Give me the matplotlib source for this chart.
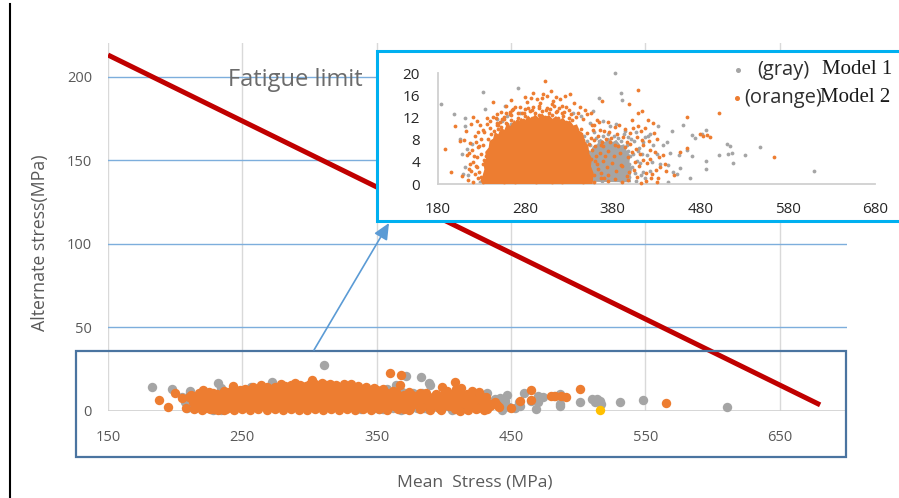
import numpy as np
import matplotlib
matplotlib.use("Agg")
import matplotlib.pyplot as plt
from matplotlib.patches import Rectangle, FancyArrowPatch
from matplotlib.lines import Line2D

plt.rcParams['font.family'] = ['Open Sans', 'DejaVu Sans']

# ---------------- data ----------------
x_ticks_main = [150, 250, 350, 450, 550, 650]
y_ticks_main = [0, 50, 100, 150, 200]
x_ticks_inset = [180, 280, 380, 480, 580, 680]
y_ticks_inset = [0, 4, 8, 12, 16, 20]

limit_x = [150, 680]
limit_y = [213, 3.5]

model1_points = [
    (183, 14.4), (198, 12.7), (205, 8.2), (207, 5.5), (209, 1.9), (211, 12.0), (211, 10.5), (211, 3.1),
    (213, 6.4), (214.7, 1.6), (218.5, 7.2), (228, 0.4), (232, 16.6), (233.8, 0.7), (234, 13.5), (239.5, 3.4),
    (247, 11.7), (253, 11.4), (256.6, 14.1), (258.6, 12.3), (264, 10.8), (272, 17.3), (274, 12.9), (311, 27.4),
    (335, 12.9), (344, 12.3), (354, 11.1), (357.7, 13.2), (364, 15.5), (369, 11.4), (372, 21.0), (377, 10.5),
    (383, 20.0), (384, 10.8), (389, 16.4), (390, 15.2), (394, 9.6), (397.8, 8.5),
    (333, 8.2), (336, 3.8), (338, 0.9), (342, 6.0), (345, 2.5), (347, 8.6), (349, 4.4), (352, 1.0),
    (354, 7.0), (356, 3.2), (358, 9.4), (360, 5.4), (362, 1.8), (364, 7.8), (366, 4.0), (368, 0.6),
    (370, 6.4), (372, 2.6), (374, 9.0), (376, 4.8), (378, 7.2), (380, 1.4), (382, 5.8), (384, 3.2),
    (386, 8.4), (388, 0.8), (390, 6.2), (392, 2.0), (394, 4.6), (396, 7.0), (398, 1.2), (400, 5.0),
    (402, 3.0), (404, 7.8), (406, 0.5), (408, 4.2), (410, 6.6), (412, 1.6),
    (341, 3.2), (343, 7.4), (346, 5.2), (348, 1.8), (350, 7.8), (351, 3.8), (353, 5.8), (355, 0.8),
    (357, 6.4), (359, 2.6), (361, 8.4), (363, 4.4), (365, 6.6), (367, 2.4), (369, 8.6), (371, 4.4),
    (373, 7.0), (375, 1.0), (377, 5.6), (379, 3.4), (381, 8.6), (383, 6.8), (385, 1.8), (387, 4.6),
    (389, 7.8), (391, 5.0), (393, 9.0), (395, 2.6), (397, 6.0), (399, 3.6), (401, 8.2), (403, 5.4),
    (405, 2.0), (407, 9.4), (409, 6.0), (411, 3.8), (413, 5.4), (415, 7.6), (417, 1.0), (419, 5.2),
    (414.9, 2.2), (416.8, 8.5), (420.6, 8.6), (422.5, 9.0), (422.5, 2.3), (424.4, 4.0), (426.3, 7.0),
    (430.2, 5.5), (432.1, 10.5), (434.0, 3.7), (437.8, 7.0), (441.6, 7.6), (443.5, 3.4), (443.5, 0.3),
    (445.4, 5.6), (447.3, 9.6), (448.5, 2.2), (453.0, 1.9), (456.0, 5.2), (456.9, 2.9), (459.9, 10.7),
    (464.5, 6.1), (468.3, 1.1), (470.2, 5.1), (470.2, 8.8), (474.0, 8.3), (481.6, 9.0), (486.6, 9.8),
    (486.6, 4.1), (486.6, 2.8), (501.5, 5.3), (510.2, 7.3), (512.2, 5.5), (514.0, 6.8), (516.0, 5.7),
    (517.1, 3.8), (531.2, 5.2), (548.4, 6.7), (610.5, 2.4),
]

model2_points = [
    (188, 6.3), (195, 2.1), (199.5, 10.5), (205, 7.8), (208, 1.4), (212, 9.6), (215, 2.8), (216.6, 7.4),
    (218, 10.8), (220.4, 12.1), (220.4, 4.0), (222.3, 8.6), (224.2, 4.9), (225, 11.4), (226.1, 6.7),
    (229, 1.2), (231, 9.8), (233, 4.4), (236, 12.0), (240, 3.2), (243.3, 14.8), (246, 12.0), (249, 10.6),
    (252, 13.0), (255, 11.8), (258, 14.2), (262, 12.6), (266, 13.6), (270, 11.4), (274, 14.0), (278, 12.8),
    (281.4, 14.9), (288, 13.4), (292.9, 15.4), (296, 13.8), (299.4, 15.6), (302, 18.6), (304.3, 15.9),
    (308, 13.6), (312, 15.1), (316, 13.2), (319.6, 15.3), (322, 14.2), (325.3, 15.9), (330, 13.4),
    (336, 14.6), (340, 12.8), (346, 11.8), (350, 12.6), (356, 10.6), (359.6, 22.8), (362, 11.6),
    (367.3, 15.1), (367.8, 21.4), (370, 9.6), (374, 11.2), (378, 8.4), (382, 10.4), (386, 6.8), (389, 3.4),
    (392, 8.5), (393.9, 6.7), (395.8, 7.6), (397.7, 0.7), (398.9, 14.4), (398.9, 2.2), (399.6, 9.3),
    (401.5, 5.8), (403.5, 10.2), (405.4, 4.0), (407.3, 8.5), (408.5, 17.1), (409.2, 12.9), (409.2, 10.5),
    (411.1, 5.5), (411.8, 9.6), (412.2, 0.1), (413, 13.3), (415, 7.0), (419, 3.8), (420.6, 11.5),
    (423, 6.2), (427, 9.2), (429, 2.6), (433, 4.8), (437.8, 5.3), (439.7, 3.6), (440.8, 2.3), (450, 1.7),
    (457, 5.8), (464.5, 6.5), (465, 12.2), (479.7, 9.0), (482.8, 8.6), (487.4, 8.9), (491.2, 8.5),
    (501, 12.8), (565, 4.9),
    (350, 6.0), (355, 8.4), (360, 4.2), (365, 9.8), (369, 6.8), (373, 3.0), (377, 7.6), (381, 5.0), (385, 9.0),
    (214, 0.8), (220, 0.4), (226, 1.0), (232, 0.3), (238, 0.9), (244, 0.5), (250, 1.1), (256, 0.4),
    (262, 0.8), (268, 0.3), (274, 1.0), (280, 0.5), (286, 0.9), (292, 0.3), (298, 0.7), (304, 1.2),
    (310, 0.4), (316, 0.8), (322, 0.3), (328, 1.0), (334, 0.5), (340, 0.9), (346, 0.3), (352, 0.8),
    (358, 0.4), (366, 1.1), (374, 0.5), (382, 0.9), (390, 0.4), (418, 0.6), (424, 1.0), (430, 0.4),
    (244, 9.6), (249, 9.9), (255, 9.5), (262, 9.8), (268, 9.6), (275, 10.1), (283, 9.7), (291, 10.0),
    (298, 9.6), (306, 10.2), (313, 9.8), (321, 10.0), (328, 9.5), (335, 9.7), (341, 9.2),
    (247, 10.6), (252, 10.3), (259, 10.8), (265, 10.4), (271, 10.9), (278, 10.5), (286, 10.7), (294, 10.3),
    (301, 10.8), (309, 10.5), (317, 10.9), (324, 10.4), (331, 10.6), (338, 10.2),
    (251, 11.3), (258, 11.0), (264, 11.6), (270, 11.2), (277, 11.5), (284, 11.1), (290, 11.7), (297, 11.2),
    (304, 11.6), (311, 11.0), (318, 11.4), (326, 11.2), (333, 11.5),
    (256, 12.1), (263, 12.4), (272, 11.9), (280, 12.3), (287, 12.0), (295, 12.5), (302, 12.1), (310, 12.4),
    (317, 12.0), (323, 12.3), (330, 12.0),
    (262, 13.1), (276, 12.9), (285, 13.2), (291, 12.8), (299, 13.3), (307, 12.9), (315, 13.1), (322, 12.8),
    (268, 13.9), (283, 13.7), (295, 14.2), (305, 13.8), (313, 14.1), (327, 13.9),
    (258, 12.8), (265, 13.4), (272, 12.9), (279, 13.6), (289, 13.9), (297, 14.6), (303, 13.4), (310, 14.4),
    (318, 13.7), (324, 13.0), (332, 12.6), (338, 12.2), (253, 11.8), (247, 11.0),
    (286, 15.6), (289, 16.4), (300, 16.2), (309, 16.8), (315, 15.8), (331, 16.2), (279, 15.8), (264, 15.2),
    (342, 14.0), (348, 13.4), (355, 12.8),
    (227, 2.2), (229, 5.4), (231, 3.6), (232, 7.0), (234, 1.8), (235, 5.0), (237, 8.2), (238, 3.0),
    (240, 6.4), (241, 9.0), (243, 4.4), (244, 7.6), (230, 0.8), (236, 0.5), (242, 1.5), (239, 10.2),
    (222, 1.8), (224, 3.2), (218, 2.4), (216, 5.6), (219, 6.2),
    (225, 3.0), (227, 6.8), (229, 8.2), (226, 9.4), (221, 5.0), (223, 7.6), (217, 3.6), (213, 5.2),
    (210, 8.0), (228, 10.6), (233, 9.4), (236, 10.8), (240, 11.4), (243, 12.2), (248, 12.6),
    (344, 10.0), (346, 8.0), (348, 5.6), (350, 9.2), (351, 2.8), (353, 7.2), (355, 4.6), (357, 9.8),
    (358, 1.6), (360, 6.8), (362, 3.6), (363, 8.6), (365, 5.6), (367, 2.0), (368, 7.6),
    (356, 6.2), (359, 8.0), (361, 5.0), (358, 10.6), (363, 2.8), (364, 11.2), (366, 7.0), (369, 4.2),
    (370, 1.0), (372, 8.2), (374, 6.0),
    (371, 5.0), (375, 1.6), (376, 9.4), (379, 3.8), (383, 7.0), (384, 2.4), (387, 10.6), (388, 5.6),
    (391, 3.2), (394, 10.0), (396, 1.4), (397, 4.8), (400, 7.2), (402, 11.6), (404, 2.6), (406, 6.4),
    (408, 1.2), (410, 3.2), (413, 8.0), (414, 4.4), (417, 10.2), (418, 2.0), (421, 7.8), (422, 4.6),
    (425, 1.8), (426, 11.0), (428, 5.8), (431, 8.2), (432, 1.0), (434, 3.0),
]

highlight_x = [516.5]
highlight_y = [0.4]

# overplotted (solid) cores of the two clouds, traced from the zoomed view
model2_dense_x = [232, 231, 233, 232, 235, 234, 238, 239, 243, 245, 249, 252, 256, 259, 263, 267, 271, 275,
                  279, 283, 287, 291, 295, 299, 303, 307, 311, 315, 319, 323, 327, 331, 335, 339, 342, 346,
                  348, 352, 353, 356, 355, 358, 357]
model2_dense_y = [0.0, 1.5, 2.6, 3.8, 4.6, 5.8, 6.6, 7.8, 8.2, 9.4, 9.0, 10.2, 9.8, 11.0, 10.5, 11.6, 11.0,
                  12.0, 11.4, 12.4, 11.8, 12.6, 12.0, 12.8, 12.1, 12.5, 11.8, 12.3, 11.6, 12.0, 11.2, 11.5,
                  10.6, 10.8, 9.6, 9.2, 7.8, 7.0, 5.6, 4.6, 3.2, 2.0, 0.0]
model1_dense_x = [352, 350, 353, 351, 355, 357, 362, 366, 371, 375, 380, 384, 389, 393, 396, 400, 399, 402,
                  400, 401]
model1_dense_y = [0.4, 2.0, 3.4, 4.8, 5.6, 6.8, 7.2, 8.2, 7.6, 8.4, 7.6, 8.0, 7.0, 7.2, 6.0, 5.2, 3.8, 2.6,
                  1.2, 0.3]

model1_x, model1_y = map(np.array, zip(*model1_points))
model2_x, model2_y = map(np.array, zip(*model2_points))

GRAY = '#A5A5A5'
ORANGE = '#ED7D31'
YELLOW = '#FFC000'

W, H = 899, 498
fig = plt.figure(figsize=(W / 100, H / 100), dpi=100)


def fx(p):
    return p / W


def fy(p):
    return 1 - p / H


# ---------------- main chart ----------------
ax = fig.add_axes([fx(108), fy(410.7), fx(847) - fx(108), (410.7 - 43.3) / H])
ax.set_xlim(150, 700)
ax.set_ylim(0, 220)
for s in ax.spines.values():
    s.set_visible(False)
for v in x_ticks_main:
    ax.axvline(v, color='#D9D9D9', lw=1, zorder=0.5)
for v in y_ticks_main[1:]:
    ax.axhline(v, color='#7DAEDC', lw=1, zorder=0.6)
ax.axhline(0, color='#D0D0D0', lw=1.2, zorder=0.6)
ax.set_xticks(x_ticks_main)
ax.set_yticks(y_ticks_main)
ax.tick_params(length=0, labelsize=10.5, labelcolor='#595959')
ax.tick_params(axis='x', pad=14)
ax.tick_params(axis='y', pad=11.5)

ax.scatter(model1_x, model1_y, s=46, color=GRAY, lw=0, clip_on=False, zorder=2)
ax.fill(model2_dense_x, model2_dense_y, color=ORANGE, lw=0, zorder=2.5)
ax.scatter(model2_x, model2_y, s=46, color=ORANGE, lw=0, clip_on=False, zorder=3)
ax.scatter(highlight_x, highlight_y, s=46, color=YELLOW, lw=0, clip_on=False, zorder=3.5)
ax.plot(limit_x, limit_y, color='#C00000', lw=3.6, solid_capstyle='butt', zorder=4)

# frame round the point cloud and arrow to the zoomed view
fig.add_artist(Rectangle((fx(75.5), fy(457)), fx(846) - fx(75.5), (457 - 350.5) / H,
                         transform=fig.transFigure, fill=False, edgecolor='#4A74A0', lw=1.6, zorder=4))
fig.add_artist(FancyArrowPatch((fx(314), fy(350)), (fx(389), fy(223)), transform=fig.transFigure,
                               arrowstyle='-|>,head_length=0.7,head_width=0.32', mutation_scale=14,
                               color='#5B9BD5', lw=1.2, shrinkA=0, shrinkB=0, zorder=4))

# inset background
fig.add_artist(Rectangle((fx(377), fy(221.5)), fx(910) - fx(377), (221.5 - 51.5) / H,
                         transform=fig.transFigure, facecolor='white', edgecolor='#00B0F0', lw=2.2, zorder=5))

fig.text(fx(228), fy(80), 'Fatigue limit', ha='left', va='center', fontsize=17, color='#6B6B6B', zorder=6)
fig.text(fx(40), fy(243), 'Alternate stress(MPa)', rotation=90, ha='center', va='center',
         fontsize=12.8, color='#595959')
fig.text(fx(475), fy(482), 'Mean  Stress (MPa)', ha='center', va='center', fontsize=12.6, color='#595959')

fig.add_artist(Line2D([fx(10), fx(10)], [fy(4), 0], color='black', lw=1.5))

# ---------------- inset ----------------
axi = fig.add_axes([fx(438), fy(184), fx(875) - fx(438), (184 - 73.5) / H])
axi.set_zorder(6)
axi.patch.set_alpha(0)
axi.set_xlim(180, 680)
axi.set_ylim(0, 20)
axi.spines['top'].set_visible(False)
axi.spines['right'].set_visible(False)
for k in ('left', 'bottom'):
    axi.spines[k].set_color('#D0D0D0')
    axi.spines[k].set_linewidth(1.3)
axi.set_xticks(x_ticks_inset)
axi.set_yticks(y_ticks_inset)
axi.tick_params(length=0, labelsize=11, labelcolor='#262626')
axi.tick_params(axis='x', pad=13)
axi.tick_params(axis='y', pad=13)

m1 = (model1_y <= 20) & (model1_x <= 680)
m2 = (model2_y <= 20) & (model2_x <= 680)
axi.fill(model1_dense_x, model1_dense_y, color=GRAY, lw=0, zorder=1)
axi.scatter(model1_x[m1], model1_y[m1], s=7.5, color=GRAY, lw=0, clip_on=False, zorder=2)
axi.fill(model2_dense_x, model2_dense_y, color=ORANGE, lw=0, zorder=3)
axi.scatter(model2_x[m2], model2_y[m2], s=7.5, color=ORANGE, lw=0, clip_on=False, zorder=4)

# legend of the inset
fig.add_artist(Line2D([fx(738)], [fy(70)], marker='o', ms=2.6, color=GRAY, ls='', zorder=7))
fig.add_artist(Line2D([fx(737)], [fy(98)], marker='o', ms=2.6, color=ORANGE, ls='', zorder=7))
fig.text(fx(757), fy(70), '(gray)', ha='left', va='center', fontsize=14.5, color='#2F2F2F', zorder=7)
fig.text(fx(822), fy(70), 'Model 1', ha='left', va='center', fontsize=15,
         family=['Liberation Serif', 'DejaVu Serif'], color='#1A1A1A', zorder=7)
fig.text(fx(744), fy(98), '(orange)', ha='left', va='center', fontsize=14.5, color='#2F2F2F', zorder=7)
fig.text(fx(820), fy(98), 'Model 2', ha='left', va='center', fontsize=15,
         family=['Liberation Serif', 'DejaVu Serif'], color='#1A1A1A', zorder=7)

fig.savefig('out.png', dpi=100)
